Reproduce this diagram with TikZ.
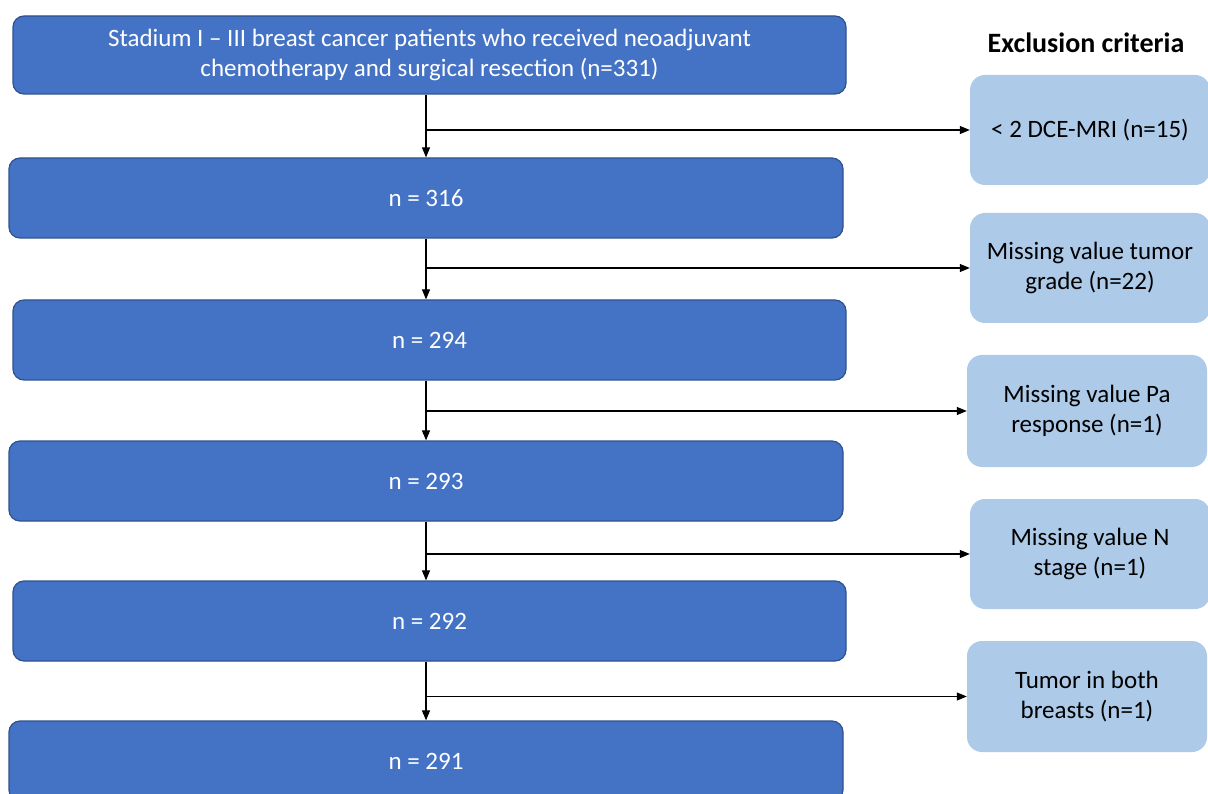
\documentclass[tikz,border=0pt]{standalone}
\usepackage{fontspec}
\setmainfont{Carlito}
\usetikzlibrary{arrows.meta}
\definecolor{stepblue}{HTML}{4472C4}
\definecolor{stepedge}{HTML}{2F528F}
\definecolor{exclblue}{HTML}{ADCAE8}
\begin{document}
\begin{tikzpicture}[x=1pt,y=-1pt,
  stagebox/.style={draw=stepedge,fill=stepblue,line width=1.2pt,rounded corners=11pt,
    text=white,align=center,inner sep=0pt,font=\fontsize{25}{30}\selectfont},
  exclbox/.style={fill=exclblue,rounded corners=15pt,text=black,align=center,
    inner sep=0pt,minimum width=240pt,minimum height=110pt,font=\fontsize{25}{30}\selectfont},
  arr/.style={line width=1.1pt,-{Triangle[length=10pt,width=8pt]}}]
\useasboundingbox (0,0) rectangle (1208,794);
\clip (0,0) rectangle (1208,794);
\fill[white] (0,0) rectangle (1208,794);

% stage boxes
\node[stagebox,minimum width=833pt,minimum height=78pt] (b1) at (429.5,55)
  {Stadium I – III breast cancer patients who received neoadjuvant\\chemotherapy and surgical resection (n=331)};
\node[stagebox,minimum width=834pt,minimum height=80pt] (b2) at (426,198) {n = 316};
\node[stagebox,minimum width=833pt,minimum height=80pt] (b3) at (429.5,340) {n = 294};
\node[stagebox,minimum width=834pt,minimum height=80pt] (b4) at (426,481) {n = 293};
\node[stagebox,minimum width=833pt,minimum height=80pt] (b5) at (429.5,621) {n = 292};
\node[stagebox,minimum width=834pt,minimum height=80pt] (b6) at (426,761) {n = 291};

% exclusion boxes
\node[font=\bfseries\fontsize{28}{32}\selectfont] (title) at (1086,43) {Exclusion criteria};
\node[exclbox] (r1) at (1090,130) {< 2 DCE-MRI (n=15)};
\node[exclbox] (r2) at (1090,268) {Missing value tumor\\grade (n=22)};
\node[exclbox,minimum height=112pt] (r3) at (1087,411) {Missing value Pa\\response (n=1)};
\node[exclbox] (r4) at (1090,554) {Missing value N\\stage (n=1)};
\node[exclbox,minimum height=111pt] (r5) at (1087,696.5) {Tumor in both\\breasts (n=1)};

% flow spine and branches
\coordinate (sp) at (426,0);
\draw[arr] (b1.south -| sp) -- (b2.north -| sp);
\draw[arr] (b2.south -| sp) -- (b3.north -| sp);
\draw[arr] (b3.south -| sp) -- (b4.north -| sp);
\draw[arr] (b4.south -| sp) -- (b5.north -| sp);
\draw[arr] (b5.south -| sp) -- (b6.north -| sp);
\draw[arr] (sp |- r1.west) -- (r1.west);
\draw[arr] (sp |- r2.west) -- (r2.west);
\draw[arr] (sp |- r3.west) -- (r3.west);
\draw[arr] (sp |- r4.west) -- (r4.west);
\draw[arr] (sp |- r5.west) -- (r5.west);
\end{tikzpicture}
\end{document}
